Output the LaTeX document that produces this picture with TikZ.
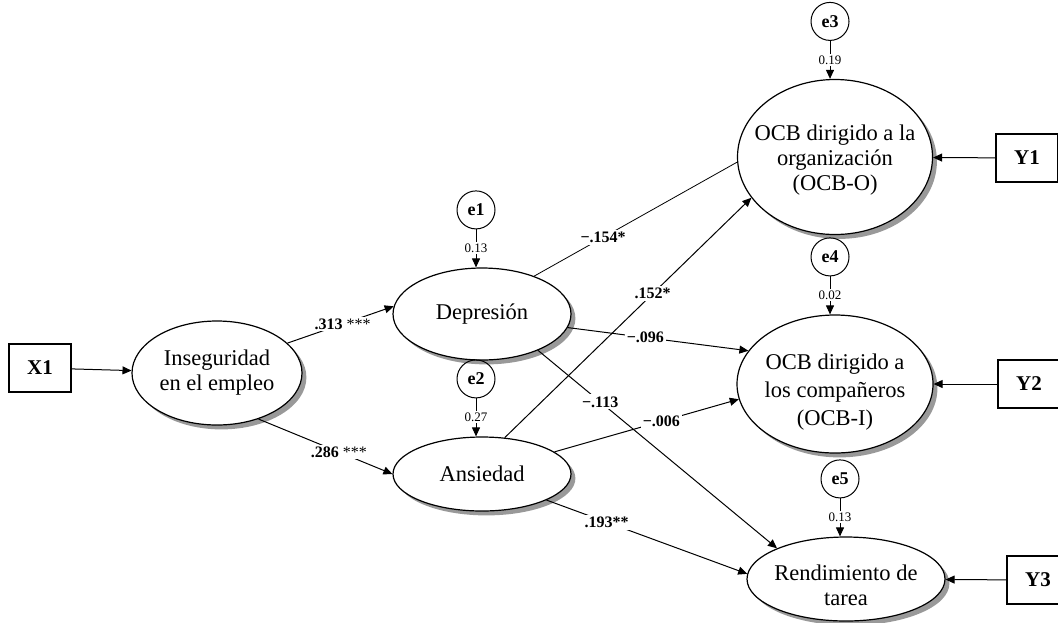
\documentclass[tikz,border=0pt]{standalone}
\usepackage{fontspec}
\setmainfont{Liberation Serif}
\usetikzlibrary{positioning, shapes, arrows.meta}

\begin{document}
\begin{tikzpicture}[
    x=0.5pt, y=-0.5pt,
    node distance=19pt,
    latent/.style 2 args={ellipse, draw, fill=white, inner sep=0pt, line width=0.6pt,
        preaction={fill=black!40, transform canvas={xshift=2.2pt, yshift=-2.2pt}},
        label={[align=center, yshift=#2, font=\fontsize{11.25}{12.5}\selectfont]center:#1}},
    obs/.style={rectangle, draw, line width=0.6pt, minimum width=31pt, minimum height=24pt,
        font=\fontsize{10.5}{12}\selectfont\bfseries},
    err/.style={circle, draw, line width=0.5pt, minimum size=19pt, inner sep=0pt,
        font=\fontsize{9}{10}\selectfont\bfseries},
    arrow/.style={-{Triangle[length=4.5pt, width=4pt]}, line width=0.5pt},
    coef/.style={fill=white, inner sep=1pt, font=\fontsize{8}{9}\selectfont\bfseries},
    resid/.style={fill=white, inner sep=0.8pt, font=\fontsize{6.5}{7}\selectfont}
]
    \useasboundingbox (0,0) rectangle (1058,622);

    % variables latentes
    \node[latent={Inseguridad\\en el empleo}{0pt}, minimum width=85pt, minimum height=52pt] (inseg) at (217,373) {};
    \node[latent={Depresión}{0pt}, minimum width=89pt, minimum height=46pt] (dep) at (482,314) {};
    \node[latent={Ansiedad}{0pt}, minimum width=89pt, minimum height=37pt] (ans) at (482,474) {};
    \node[latent={OCB dirigido a la\\organización\\(OCB-O)}{-1.5pt}, minimum width=97.5pt, minimum height=77.5pt] (ocbo) at (835,157) {};
    \node[latent={OCB dirigido a\\[1.5pt]los compañeros\\[1.5pt](OCB-I)}{-4pt}, minimum width=98pt, minimum height=69pt] (ocbi) at (835,384) {};
    \node[latent={Rendimiento de\\tarea}{-3pt}, minimum width=99pt, minimum height=42pt] (rend) at (846,579) {};

    % observadas
    \node[obs] (x1) at (40,368) {X1};
    \node[obs] (y1) at (1027,158) {Y1};
    \node[obs] (y2) at (1029,384) {Y2};
    \node[obs] (y3) at (1038,580) {Y3};

    % errores
    \node[err, above=of dep, xshift=-3pt] (e1) {e1};
    \node[err, above=of ans, xshift=-3pt] (e2) {e2};
    \node[err, above=of ocbo, xshift=-2.5pt] (e3) {e3};
    \node[err, above=of ocbi, xshift=-2.5pt] (e4) {e4};
    \node[err, above=of rend, xshift=-3pt] (e5) {e5};

    \draw[arrow] (x1) -- (inseg);
    \draw[arrow] (inseg.23) -- node[coef, pos=0.52] {.313 \textmd{***}} (dep.175);
    \draw[arrow] (inseg.-48) -- node[coef, pos=0.6] {.286 \textmd{***}} (ans.west);
    \draw (dep.36) -- node[coef, pos=0.34] {−.154*} (ocbo.183);
    \draw[arrow] (ans.58) -- node[coef, pos=0.6] {.152*} (ocbo.206);
    \draw[arrow] (dep.-9) -- node[coef, pos=0.43] {−.096} (ocbi.159);
    \draw[arrow] (dep.-33) -- node[coef, pos=0.26] {−.113} (rend.156);
    \draw[arrow] (ans.17) -- node[coef, pos=0.58] {−.006} (ocbi.189);
    \draw[arrow] (ans.-22) -- node[coef, pos=0.3] {.193**} (rend.177);

    \draw[arrow] (y1) -- (ocbo);
    \draw[arrow] (y2) -- (ocbi);
    \draw[arrow] (y3) -- (rend);

    \draw[arrow] (e1) -- node[resid] {0.13} (e1 |- dep.north);
    \draw[arrow] (e2) -- node[resid] {0.27} (e2 |- ans.north);
    \draw[arrow] (e3) -- node[resid] {0.19} (e3 |- ocbo.north);
    \draw[arrow] (e4) -- node[resid] {0.02} (e4 |- ocbi.north);
    \draw[arrow] (e5) -- node[resid] {0.13} (e5 |- rend.north);
\end{tikzpicture}
\end{document}
